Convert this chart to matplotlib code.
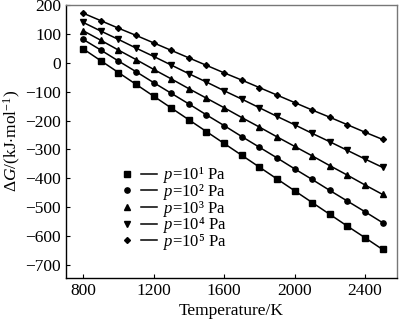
import numpy as np
import matplotlib
matplotlib.use('Agg')
import matplotlib.pyplot as plt
from matplotlib.lines import Line2D
from matplotlib.legend_handler import HandlerBase

plt.rcParams['font.family'] = 'Liberation Serif'
plt.rcParams['mathtext.fontset'] = 'custom'
plt.rcParams['mathtext.rm'] = 'Liberation Serif'
plt.rcParams['mathtext.it'] = 'Liberation Serif:italic'

temps = [800, 900, 1000, 1100, 1200, 1300, 1400, 1500, 1600, 1700,
         1800, 1900, 2000, 2100, 2200, 2300, 2400, 2500]
dg_p1 = [49, 8, -33, -74, -115, -156, -197, -238, -279, -320,
         -361, -402, -443, -484, -525, -566, -606, -647]
dg_p2 = [82, 45, 7, -30, -68, -105, -142, -180, -217, -255,
         -292, -329, -367, -404, -442, -479, -516, -554]
dg_p3 = [112, 79, 45, 12, -22, -55, -89, -122, -155, -189,
         -222, -256, -289, -322, -356, -389, -423, -456]
dg_p4 = [141, 111, 82, 52, 23, -7, -37, -66, -96, -125,
         -155, -185, -214, -244, -273, -303, -333, -362]
dg_p5 = [173, 147, 121, 96, 70, 44, 18, -8, -34, -59,
         -85, -111, -137, -163, -188, -214, -240, -265]
labels = ['$p$=10\u00b9 Pa', '$p$=10\u00b2 Pa', '$p$=10\u00b3 Pa',
          '$p$=10\u2074 Pa', '$p$=10\u2075 Pa']
markers = ['s', 'o', '^', 'v', 'D']
msizes = [3.8, 3.8, 3.8, 3.8, 3.0]


# legend entry: marker on the left, a gap, then a short line
class MarkerThenLine(HandlerBase):
    def create_artists(self, legend, orig_handle, xdescent, ydescent,
                       width, height, fontsize, trans):
        y = height / 2 - ydescent
        x0 = -xdescent
        m = Line2D([x0 + 0.1 * width], [y], color='black', ls='none',
                   marker=orig_handle.get_marker(), ms=orig_handle.get_markersize(),
                   transform=trans)
        l = Line2D([x0 + 0.5 * width, x0 + width], [y, y], color='black',
                   lw=orig_handle.get_linewidth(), transform=trans)
        return [m, l]


fig = plt.figure(figsize=(4, 3.24), dpi=100)
ax = fig.add_axes([0.165, 0.142, 0.8275, 0.843])

series = [dg_p1, dg_p2, dg_p3, dg_p4, dg_p5]
lines = []
for ys, m, ms in zip(series, markers, msizes):
    ln, = ax.plot(temps, ys, color='black', lw=1.1, marker=m, ms=ms)
    lines.append(ln)

ax.set_xlim(702, 2582)
ax.set_ylim(-746, 202)
ax.set_xticks([800, 1200, 1600, 2000, 2400])
ax.set_yticks(np.arange(-700, 201, 100))
ax.set_yticklabels([str(v).replace('-', '\u2212') for v in range(-700, 201, 100)])
ax.tick_params(direction='in', length=3, labelsize=12.5, width=0.8)
for s in ['top', 'right']:
    ax.spines[s].set_color('#777777')
for s in ax.spines.values():
    s.set_linewidth(1.0)

ax.set_xlabel('Temperature/K', fontsize=12.5, labelpad=3)
ax.set_ylabel(r'$\Delta G$/(kJ$\cdot$mol$^{-1}$)', fontsize=12.5, labelpad=2)

ax.legend(lines, labels, handler_map={Line2D: MarkerThenLine()},
          loc='lower left', bbox_to_anchor=(0.175, 0.095), frameon=False,
          fontsize=12, handlelength=2.0, handletextpad=0.36, labelspacing=-0.2,
          borderpad=0, borderaxespad=0)

fig.savefig('out.png', dpi=100)
